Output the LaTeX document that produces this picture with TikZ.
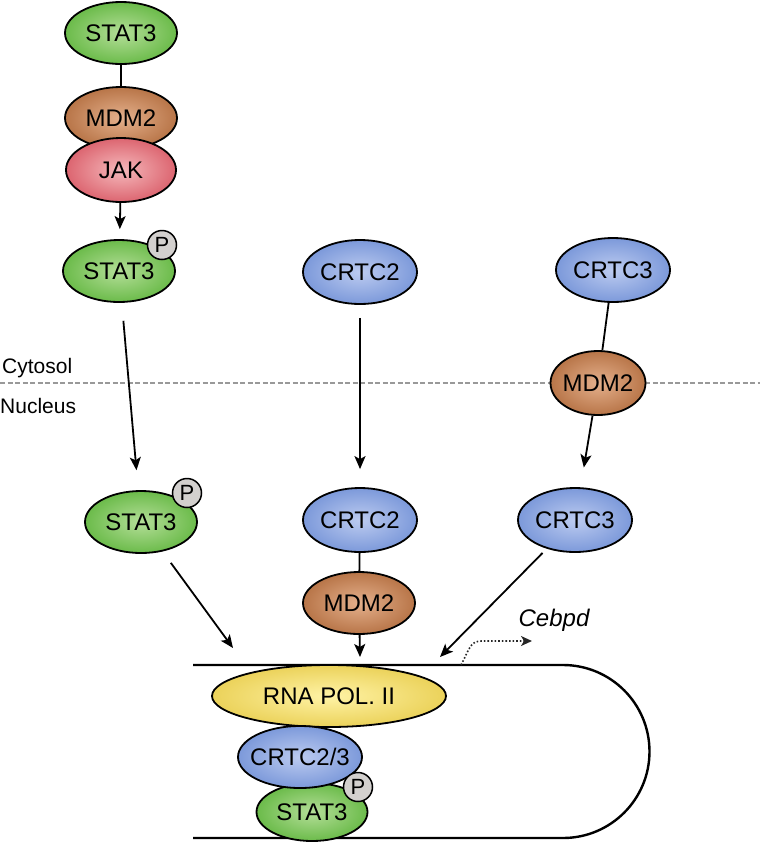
\documentclass[tikz,border=0pt]{standalone}
\usepackage{fontspec}
\setmainfont{Liberation Sans}
\usetikzlibrary{shapes.geometric,arrows.meta}
\definecolor{gIn}{HTML}{B4DE98}\definecolor{gOut}{HTML}{6BBB4A}
\definecolor{bIn}{HTML}{BCCBF0}\definecolor{bOut}{HTML}{7C99DA}
\definecolor{oIn}{HTML}{E4B08C}\definecolor{oOut}{HTML}{B87548}
\definecolor{rIn}{HTML}{F5B8BB}\definecolor{rOut}{HTML}{DC6570}
\definecolor{yIn}{HTML}{FFF3A6}\definecolor{yOut}{HTML}{EBD25A}
\definecolor{pFill}{HTML}{D3D0CE}
\begin{document}
\begin{tikzpicture}[x=1pt,y=-1pt,
  prot/.style={ellipse,draw=black,line width=1.8pt,inner xsep=-12pt,inner ysep=0pt,shading=radial,
    font=\fontsize{24}{26}\selectfont},
  gprot/.style={prot,inner color=gIn,outer color=gOut,minimum width=112pt,minimum height=62pt},
  bprot/.style={prot,inner color=bIn,outer color=bOut,minimum width=114pt,minimum height=64pt},
  oprot/.style={prot,inner color=oIn,outer color=oOut,minimum width=112pt,minimum height=62pt},
  rprot/.style={prot,inner color=rIn,outer color=rOut,minimum width=110pt,minimum height=64pt},
  yprot/.style={prot,inner color=yIn,outer color=yOut,minimum width=234pt,minimum height=62pt},
  pcirc/.style={circle,draw=black,line width=1.5pt,fill=pFill,inner sep=0pt,minimum size=29pt,
    font=\fontsize{22}{24}\selectfont},
  conn/.style={line width=1.8pt},
  arr/.style={line width=1.8pt,-{Stealth[length=13pt,width=11pt,inset=3pt]}},
  lbl/.style={inner sep=0pt,font=\fontsize{21}{24}\selectfont}]
\useasboundingbox (0,0) rectangle (760,844);

% compartment boundary
\draw[gray!80,line width=2.2pt,dash pattern=on 5pt off 2.5pt] (0,383) -- (760,383);
\node[lbl,anchor=west] (cyto) at (2,368) {Cytosol};
\node[lbl,anchor=west] (nuc) at (0,406) {Nucleus};

% DNA
\draw[line width=2.4pt] (193,665) -- (563,665) arc (-90:90:86.5) -- (193,838);

% left column (cytosol)
\node[gprot] (s1) at (121,33) {STAT3};
\node[oprot] (m1) at (121,118) {MDM2};
\node[rprot] (jak) at (121,170) {JAK};
\node[gprot] (s2) at (119,271) {STAT3};
\node[pcirc] (p2) at (162,245) {P};

% CRTC tops
\node[bprot] (c2) at (360,272) {CRTC2};
\node[bprot] (c3) at (613,270) {CRTC3};
\node[oprot,minimum width=95pt,minimum height=64pt] (mm) at (598,383) {MDM2};

% nucleus row
\node[gprot] (s3) at (141,522) {STAT3};
\node[pcirc] (p3) at (187,493) {P};
\node[bprot] (c2b) at (360,520) {CRTC2};
\node[bprot] (c3b) at (575,520) {CRTC3};
\node[oprot] (m2) at (359,603) {MDM2};

% complex on DNA
\node[yprot] (pol) at (329,696) {RNA POL. II};
\node[gprot,minimum width=111pt,minimum height=58pt] (s4) at (312,812) {STAT3};
\node[bprot,minimum width=124pt,minimum height=62pt] (c23) at (300,757) {CRTC2/3};
\node[pcirc] (p4) at (358,787) {P};

% free ends
\coordinate (t1) at (233,648);
\coordinate (t2) at (360,657);
\coordinate (t3) at (440,657);
\coordinate (g0) at (461,665);
\coordinate (g1) at (532,641);

% connectors
\draw[conn] (s1) -- (m1);
\draw[arr,shorten >=10pt] (jak) -- (s2);
\draw[arr,shorten <=18pt,shorten >=20pt] (s2) -- (s3);
\draw[arr,shorten <=13pt,shorten >=18pt] (c2) -- (c2b);
\draw[conn] (c3) -- (mm);
\draw[arr,shorten >=20pt] (mm) -- (c3b);
\draw[conn] (c2b) -- (m2);
\draw[arr,shorten <=14pt] (s3) -- (t1);
\draw[arr] (m2) -- (t2);
\draw[arr,shorten <=6pt] (c3b) -- (t3);
\draw[line width=1.6pt,dotted,gray!30!black,-{Stealth[length=11pt,width=10pt,inset=3pt]}]
  (g0) .. controls (470,648) and (470,641) .. (482,641) -- (g1);
\node[inner sep=0pt,font=\fontsize{24}{26}\selectfont\itshape] (ceb) at (554,620) {Cebpd};
\end{tikzpicture}
\end{document}
